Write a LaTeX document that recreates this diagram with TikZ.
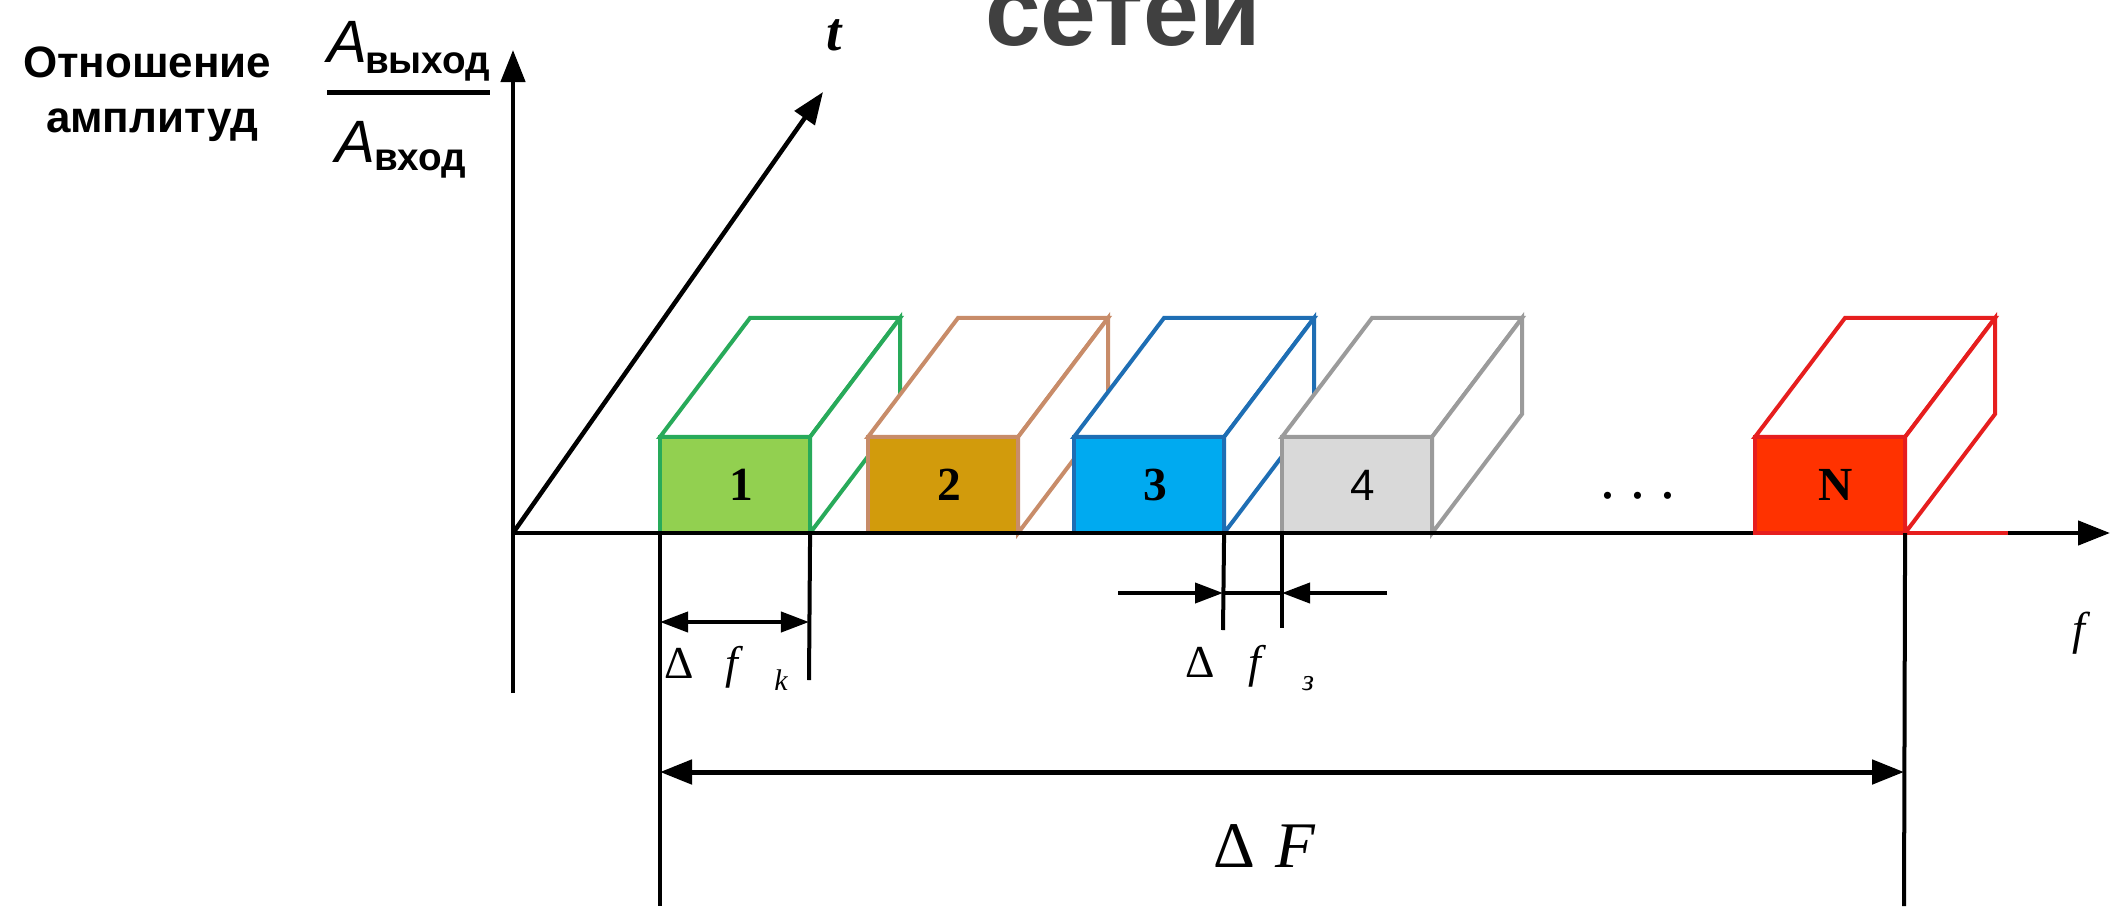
\documentclass[tikz,border=0pt]{standalone}
\usepackage{fontspec}
\setmainfont{Liberation Serif}
\newfontfamily\arialf{Liberation Sans}
\usetikzlibrary{arrows.meta}
\definecolor{gfill}{RGB}{146,208,80}
\definecolor{gline}{RGB}{40,170,90}
\definecolor{ofill}{RGB}{210,155,12}
\definecolor{oline}{RGB}{200,140,105}
\definecolor{bfill}{RGB}{0,170,240}
\definecolor{bline}{RGB}{30,110,180}
\definecolor{hfill}{RGB}{217,217,217}
\definecolor{hline}{RGB}{155,155,155}
\definecolor{rfill}{RGB}{255,50,0}
\definecolor{rline}{RGB}{230,30,30}
\definecolor{titlegray}{RGB}{64,64,64}
\newcommand\chanbox[6]{%
  \node[boxfront, fill=#3, draw=#4, anchor=south west] (#1) at (#2,533) {#5 #6};
  \filldraw[face, draw=#4] (#1.north west) -- ++(90,-119) -- ++(150,0) -- (#1.north east) -- cycle;
  \filldraw[face, draw=#4] (#1.north east) -- ++(90,-119) -- ++(0,96) -- (#1.south east) -- cycle;
}
\begin{document}
\begin{tikzpicture}[x=0.01cm,y=-0.01cm,
  ax/.style={line width=0.045cm, black},
  axarrow/.style={ax, -{Triangle[length=0.32cm,width=0.24cm]}},
  dimline/.style={line width=0.04cm, black},
  dimarrow/.style={dimline, -{Triangle[length=0.28cm,width=0.2cm]}},
  dimsmall/.style={dimline, {Triangle[length=0.28cm,width=0.2cm]}-{Triangle[length=0.28cm,width=0.2cm]}},
  dimboth/.style={line width=0.05cm, {Triangle[length=0.32cm,width=0.24cm]}-{Triangle[length=0.32cm,width=0.24cm]}},
  boxfront/.style={rectangle, minimum width=1.5cm, minimum height=0.96cm, inner sep=0, outer sep=0, line width=0.04cm},
  face/.style={fill=white, line width=0.04cm},
  lbl/.style={inner sep=0, outer sep=0, anchor=base west},
]
\useasboundingbox (0,0) rectangle (2113,906);
\fill[white] (0,0) rectangle (2113,906);

% title (cut off at the top)
\node[lbl, font=\arialf\bfseries\fontsize{28.45}{30}\selectfont, text=titlegray] (title) at (985,45) {сетей};

% vertical axis label
\node[lbl, font=\arialf\bfseries\fontsize{12.5}{14}\selectfont] (lab1) at (23,77) {Отношение};
\node[lbl, font=\arialf\bfseries\fontsize{12.5}{14}\selectfont] (lab2) at (46,132) {амплитуд};
\node[lbl, font=\arialf\itshape\fontsize{17}{20}\selectfont] (anum) at (327,62) {A};
\node[lbl, font=\arialf\bfseries\fontsize{11}{13}\selectfont] (anums) at (365,73) {выход};
\coordinate (frl) at (327,92);
\coordinate (frr) at (490,92);
\draw[line width=0.05cm] (frl) -- (frr);
\node[lbl, font=\arialf\itshape\fontsize{17}{20}\selectfont] (aden) at (335,162) {A};
\node[lbl, font=\arialf\bfseries\fontsize{11}{13}\selectfont] (adens) at (374,170) {вход};

% axes
\coordinate (O) at (513,533);
\coordinate (vtop) at (513,50);
\coordinate (vbot) at (513,693);
\coordinate (ttip) at (823,92);
\coordinate (ftip) at (2110,533);
\draw[ax] (vbot) -- (O);
\draw[axarrow] (O) -- (vtop);
\draw[axarrow] (O) -- (ttip);
\node[lbl, font=\bfseries\itshape\fontsize{15.6}{18}\selectfont] (tlab) at (826,50) {t};

% channel boxes
\chanbox{b1}{660}{gfill}{gline}{\bfseries\fontsize{13.5}{15}\selectfont}{1}
\chanbox{b2}{868}{ofill}{oline}{\bfseries\fontsize{13.5}{15}\selectfont}{2}
\chanbox{b3}{1074}{bfill}{bline}{\bfseries\fontsize{13.5}{15}\selectfont}{3}
\chanbox{b4}{1282}{hfill}{hline}{\arialf\fontsize{12.5}{14}\selectfont}{4}
\draw[axarrow] (O) -- (ftip);
\chanbox{bN}{1755}{rfill}{rline}{\bfseries\fontsize{13.5}{15}\selectfont}{N}
\coordinate (rseg) at (2008,533);
\draw[rline, line width=0.04cm] (bN.south east) -- (rseg);
\node[lbl, font=\itshape\fontsize{13.1}{15}\selectfont] (flab) at (2072,644) {f};
\node[inner sep=0, anchor=base, font=\fontsize{17}{19}\selectfont] (dots) at (1638,498) {.\ .\ .};

% extension lines
\coordinate (k1) at (660,906);
\coordinate (k2) at (809,680);
\coordinate (z1) at (1223,630);
\coordinate (z2) at (1282,628);
\coordinate (kN) at (1904,906);
\draw[dimline] (b1.south west) -- (k1);
\draw[dimline] (b1.south east) -- (k2);
\draw[dimline] (b3.south east) -- (z1);
\draw[dimline] (b4.south west) -- (z2);
\draw[dimline] (bN.south east) -- (kN);

% delta f_k
\coordinate (dk1) at (660,622);
\coordinate (dk2) at (809,622);
\draw[dimsmall] (dk1) -- (dk2);
\node[lbl, font=\fontsize{13}{15}\selectfont] (dfk) at (664,678) {Δ\hspace{3.2mm}\textit{f}\hspace{3.1mm}\raisebox{-1.2mm}{\fontsize{8.5}{10}\selectfont\textit{k}}};

% delta f_z
\coordinate (dz1) at (1118,593);
\coordinate (dz2) at (1223,593);
\coordinate (dz3) at (1282,593);
\coordinate (dz4) at (1387,593);
\draw[dimarrow] (dz1) -- (dz2);
\draw[dimline] (dz2) -- (dz3);
\draw[dimarrow] (dz4) -- (dz3);
\node[lbl, font=\fontsize{13}{15}\selectfont] (dfz) at (1185,677) {Δ\hspace{3.4mm}\textit{f}\hspace{3.6mm}\raisebox{-1.3mm}{\fontsize{8.5}{10}\selectfont\textit{з}}};

% delta F
\coordinate (dF1) at (660,772);
\coordinate (dF2) at (1904,772);
\draw[dimboth] (dF1) -- (dF2);
\node[lbl, font=\fontsize{18.5}{22}\selectfont] (dFlab) at (1213,867) {Δ\hspace{2.1mm}\textit{F}};
\end{tikzpicture}
\end{document}
